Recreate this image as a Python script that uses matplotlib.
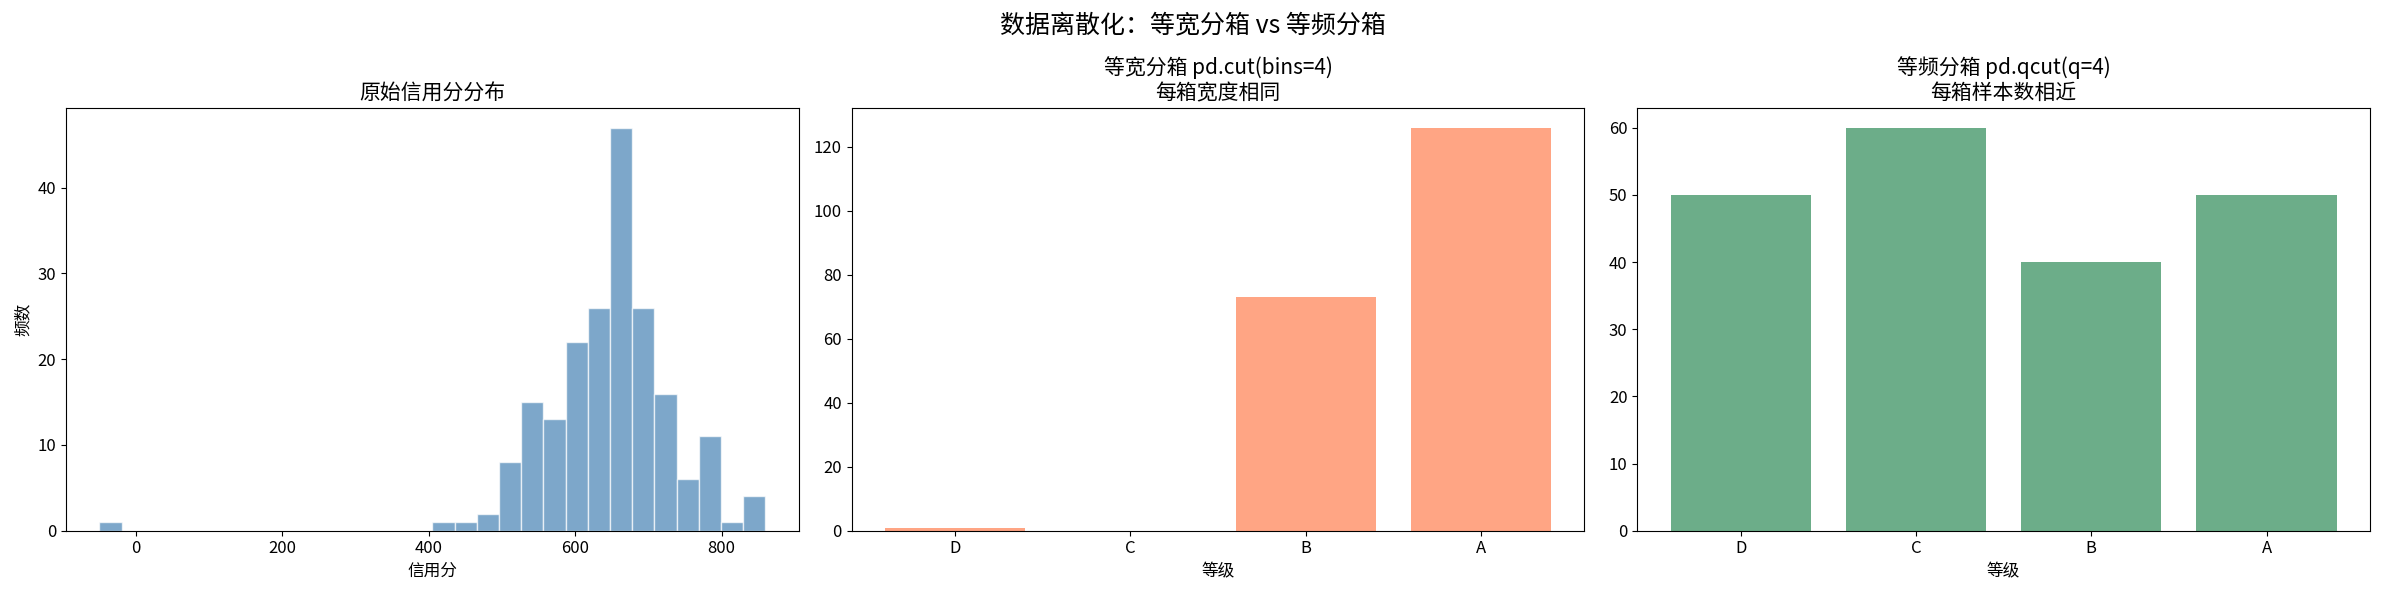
import numpy as np
import matplotlib
matplotlib.use("Agg")
import matplotlib.pyplot as plt

plt.rcParams['font.family'] = ['Noto Sans CJK SC', 'DejaVu Sans']
plt.rcParams['axes.unicode_minus'] = False

# histogram of raw scores: 30 bins from -50 to 860
score_min, score_max = -50, 860
hist_counts = [1, 0, 0, 0, 0, 0, 0, 0, 0, 0, 0, 0, 0, 0, 0,
               1, 1, 2, 8, 15, 13, 22, 26, 47, 26, 16, 6, 11, 1, 4]

grades = ['D', 'C', 'B', 'A']
cut_counts = [1, 0, 73, 126]
qcut_counts = [50, 60, 40, 50]

fig, axes = plt.subplots(1, 3, figsize=(23.85, 5.95), dpi=100)

edges = np.linspace(score_min, score_max, len(hist_counts) + 1)
ax = axes[0]
ax.bar(edges[:-1], hist_counts, width=np.diff(edges), align='edge',
       color='steelblue', alpha=0.7, edgecolor='white')
ax.set_title('原始信用分分布', fontsize=15)
ax.set_xlabel('信用分', fontsize=12)
ax.set_ylabel('频数', fontsize=12)

ax = axes[1]
ax.bar(grades, cut_counts, color='coral', alpha=0.7)
ax.set_title('等宽分箱 pd.cut(bins=4)\n每箱宽度相同', fontsize=15)
ax.set_xlabel('等级', fontsize=12)

ax = axes[2]
ax.bar(grades, qcut_counts, color='seagreen', alpha=0.7)
ax.set_title('等频分箱 pd.qcut(q=4)\n每箱样本数相近', fontsize=15)
ax.set_xlabel('等级', fontsize=12)

for a in axes:
    a.tick_params(labelsize=12)

fig.suptitle('数据离散化：等宽分箱 vs 等频分箱', fontsize=18)
fig.tight_layout()
fig.savefig('out.png')
